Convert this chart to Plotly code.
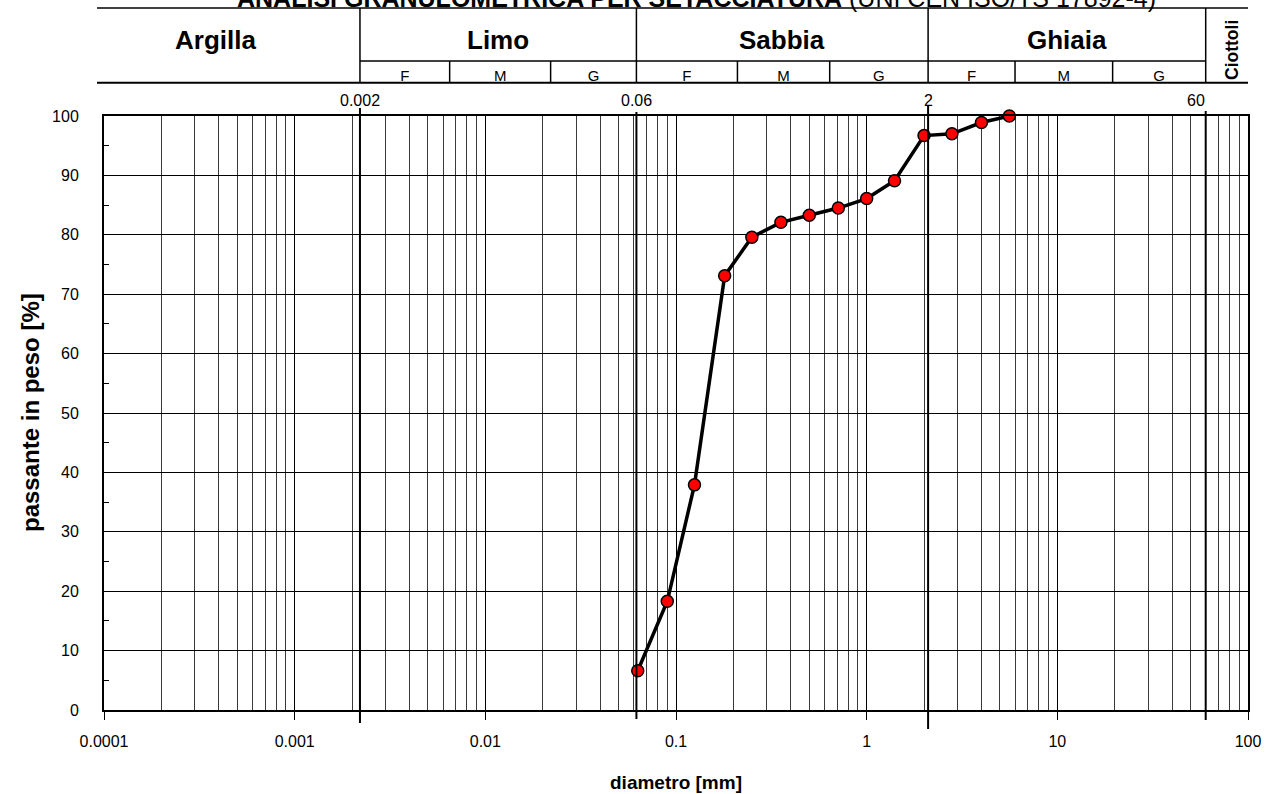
import math
import plotly.graph_objects as go

# ---------------- data ----------------
diam_mm = [0.063, 0.09, 0.125, 0.18, 0.25, 0.355, 0.5, 0.71, 1.0, 1.4, 2.0, 2.8, 4.0, 5.6]
passante = [6.6, 18.3, 37.9, 73.1, 79.6, 82.1, 83.3, 84.5, 86.1, 89.1, 96.7, 97.0, 98.9, 100.0]

x_tickvals = [0.0001, 0.001, 0.01, 0.1, 1, 10, 100]
x_ticktext = ["0.0001", "0.001", "0.01", "0.1", "1", "10", "100"]
y_tickvals = [0, 10, 20, 30, 40, 50, 60, 70, 80, 90, 100]

# class boundaries (position on the diameter axis, label)
bound_pos = [0.0022, 0.062, 2.1, 60]
bound_lab = ["0.002", "0.06", "2", "60"]
# fine / medium / coarse sub-divisions inside Limo, Sabbia, Ghiaia
sub_edges = [[0.0022, 0.0065, 0.022, 0.062],
             [0.062, 0.21, 0.64, 2.1],
             [2.1, 6.0, 19.5, 60]]
sub_labels = ["F", "M", "G"]
class_names = ["Limo", "Sabbia", "Ghiaia"]

title_bold = "ANALISI GRANULOMETRICA PER SETACCIATURA"
title_norm = "(UNI CEN ISO/TS 17892-4)"

# ---------------- layout geometry ----------------
W, H = 1265, 794
ML, MR, MT, MB = 104, 17, 12, 84
paper_h = H - MT - MB
plot_top_px = 116


def py(p):
    """pixel row -> paper fraction"""
    return (H - MB - p) / paper_h


def px(p):
    return (p - ML) / (W - ML - MR)


FONT = "Liberation Sans, Arial, sans-serif"

minor_x = [m * 10 ** e for e in range(-4, 2) for m in range(2, 10)]

fig = go.Figure()

fig.add_trace(go.Scatter(
    x=diam_mm, y=passante, mode="lines+markers",
    line=dict(color="black", width=3.5),
    marker=dict(size=12, color="#ff0000", line=dict(color="black", width=1.5)),
    cliponaxis=False, showlegend=False, hoverinfo="x+y"))

# F/M/G sub labels, clipped by their own invisible axes
sx, st = [], []
for edges in sub_edges:
    for i, lab in enumerate(sub_labels):
        sx.append(math.sqrt(edges[i] * edges[i + 1]))
        st.append(lab)
fig.add_trace(go.Scatter(
    x=sx, y=[0.24] * len(sx), mode="text", text=st,
    textfont=dict(family=FONT, size=15, color="black"),
    textposition="middle center", cliponaxis=True,
    xaxis="x2", yaxis="y2", showlegend=False, hoverinfo="skip"))

shapes = []
# thick class boundary lines across the plot
ext = {"0.002": (108, 723), "0.06": (112, 719), "2": (106, 729), "60": (111, 720)}
for b, lab in zip(bound_pos, bound_lab):
    t, bt = ext[lab]
    shapes.append(dict(type="line", xref="x", yref="paper", x0=b, x1=b,
                       y0=py(bt), y1=py(t), line=dict(color="black", width=2)))

# header table
hl = dict(color="black", width=1.5)
shapes.append(dict(type="line", xref="paper", yref="paper", x0=px(97), x1=1,
                   y0=py(8), y1=py(8), line=hl))
shapes.append(dict(type="line", xref="paper", yref="paper", x0=px(97), x1=1,
                   y0=py(82.7), y1=py(82.7), line=dict(color="black", width=2)))
shapes.append(dict(type="line", xref="x", yref="paper", x0=bound_pos[0], x1=bound_pos[-1],
                   y0=py(61), y1=py(61), line=hl))
for b in bound_pos:
    shapes.append(dict(type="line", xref="x", yref="paper", x0=b, x1=b,
                       y0=py(82.7), y1=py(8), line=hl))
for edges in sub_edges:
    for e in edges[1:-1]:
        shapes.append(dict(type="line", xref="x", yref="paper", x0=e, x1=e,
                           y0=py(82.7), y1=py(61), line=hl))

ann = []
ann.append(dict(xref="paper", yref="paper", x=px(696), y=py(-2), xanchor="center",
                yanchor="middle",
                text="<b>" + title_bold + "</b> " + title_norm, showarrow=False,
                font=dict(family=FONT, size=25, color="black")))
ann.append(dict(xref="paper", yref="paper", x=px(215), y=py(40), xanchor="center",
                yanchor="middle",
                text="<b>Argilla</b>", showarrow=False,
                font=dict(family=FONT, size=26, color="black")))
for i, name in enumerate(class_names):
    c = (math.log10(bound_pos[i]) + math.log10(bound_pos[i + 1])) / 2
    ann.append(dict(xref="x", yref="paper", x=c, y=py(40), xanchor="center",
                    yanchor="middle",
                    text="<b>" + name + "</b>", showarrow=False,
                    font=dict(family=FONT, size=26, color="black")))
ann.append(dict(xref="paper", yref="paper", x=px(1232), y=py(50), xanchor="center",
                yanchor="middle",
                text="<b>Ciottoli</b>", textangle=-90, showarrow=False,
                font=dict(family=FONT, size=17.5, color="black")))
for b, lab in zip(bound_pos, bound_lab):
    ann.append(dict(xref="x", yref="paper", x=math.log10(b), y=py(101), xanchor="center",
                    yanchor="middle",
                    text=lab, showarrow=False, xshift=-10 if lab == "60" else 0,
                    font=dict(family=FONT, size=16, color="black")))
ann.append(dict(xref="paper", yref="paper", x=0.5, y=py(782), xanchor="center",
                yanchor="middle",
                text="<b>diametro [mm]</b>", showarrow=False,
                font=dict(family=FONT, size=19, color="black")))
ann.append(dict(xref="paper", yref="paper", x=px(30), y=py(413), xanchor="center",
                yanchor="middle",
                text="<b>passante in peso [%]</b>", textangle=-90, showarrow=False,
                font=dict(family=FONT, size=24, color="black")))

fig.update_layout(
    width=W, height=H,
    margin=dict(l=ML, r=MR, t=MT, b=MB, pad=0, autoexpand=False),
    paper_bgcolor="white", plot_bgcolor="white",
    font=dict(family=FONT, size=16, color="black"),
    showlegend=False,
    shapes=shapes, annotations=ann,
    xaxis=dict(type="log", range=[-4, 2], domain=[0, 1], anchor="y",
               tickmode="array", tickvals=x_tickvals, ticktext=x_ticktext,
               ticks="outside", ticklen=8, tickwidth=1, tickcolor="black",
               ticklabelstandoff=8, automargin=False,
               showgrid=True, gridcolor="black", gridwidth=1,
               showline=True, linecolor="black", linewidth=2, mirror=True,
               minor=dict(tickmode="array", tickvals=minor_x, showgrid=True,
                          gridcolor="#3a3a3a", gridwidth=1, ticks=""),
               tickfont=dict(family=FONT, size=16)),
    yaxis=dict(range=[0, 100], domain=[0, py(plot_top_px)], anchor="x",
               tickmode="array", tickvals=y_tickvals, ticks="",
               ticklabelstandoff=20, automargin=False,
               showgrid=True, gridcolor="black", gridwidth=1, zeroline=False,
               showline=True, linecolor="black", linewidth=2, mirror=True,
               minor=dict(tickmode="array", tickvals=[v + 5 for v in y_tickvals[:-1]],
                          ticks="inside", ticklen=5, tickcolor="black", showgrid=False),
               tickfont=dict(family=FONT, size=16)),
    xaxis2=dict(type="log", range=[-4, 2], domain=[0, 1], anchor="y2", visible=False,
                automargin=False),
    yaxis2=dict(range=[0, 1], domain=[py(82.7), py(61)], anchor="x2", visible=False,
                automargin=False),
)

fig.write_html("out.html", config={"displayModeBar": False},
               post_script="document.body.style.margin='0';document.body.style.overflow='hidden';")
